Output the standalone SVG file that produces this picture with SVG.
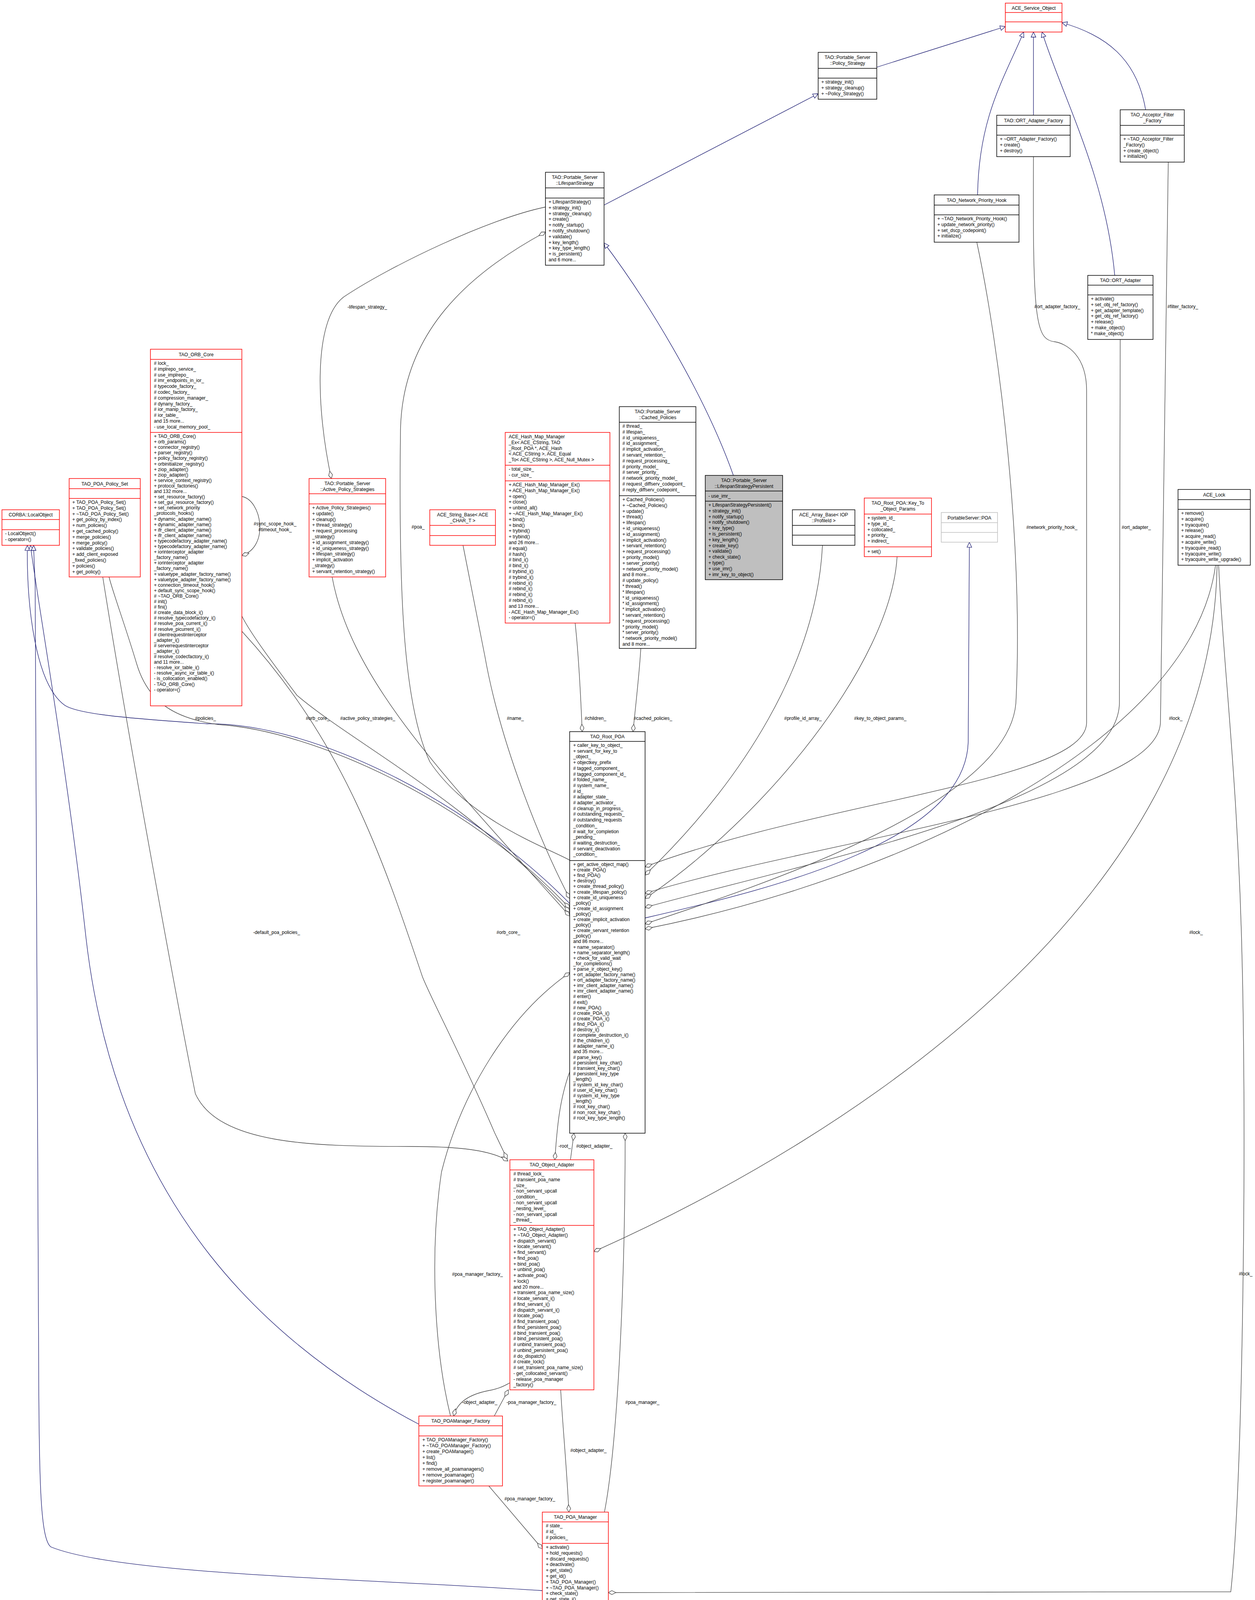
<svg xmlns="http://www.w3.org/2000/svg" width="3212" height="4291" viewBox="0 0 3212 4291">
<style>
.bg{fill:#fff}
.n rect{fill:#fff;stroke-width:1.5}
.n line{stroke-width:1.5}
.r rect,.r line{stroke:#ff0000}
.k rect,.k line{stroke:#000}
.g rect,.g line{stroke:#bfbfbf}
.t{font-family:"Liberation Sans",Arial,sans-serif;font-size:12px;fill:#000}
.c{text-anchor:middle}
.e path{fill:none;stroke-width:1.3}
.in{stroke:#191970;marker-end:url(#tri)}
.ag{stroke:#404040;marker-start:url(#dia)}
.lb{font-family:"Liberation Sans",Arial,sans-serif;font-size:12px;fill:#000;text-anchor:middle}
</style>
<defs>
<marker id="tri" markerUnits="userSpaceOnUse" markerWidth="16" markerHeight="14" refX="14" refY="7" orient="auto"><path d="M1,1 L14,7 L1,13 z" fill="#fff" stroke="#191970" stroke-width="1.3"/></marker>
<marker id="dia" markerUnits="userSpaceOnUse" markerWidth="22" markerHeight="12" refX="1" refY="6" orient="auto"><path d="M1,6 L10,1 L20,6 L10,11 z" fill="#fff" stroke="#404040" stroke-width="1.3"/></marker>
</defs>
<rect class="bg" x="0" y="0" width="3212" height="4291"/>

<g id="edges" class="e">
<path class="in" d="M2244,172 L2573,68"/>
<path class="in" d="M1546,525 L2094,240"/>
<path class="in" d="M1877,1217 C1800,1000 1650,760 1546,622"/>
<path class="in" d="M2502,499 C2505,300 2570,200 2620,82"/>
<path class="in" d="M2645,295 L2645,82"/>
<path class="in" d="M2853,705 C2830,450 2720,250 2667,82"/>
<path class="in" d="M2932,281 C2910,150 2830,90 2718,58"/>
<path class="in" d="M1651,2350 C2000,2270 2470,2150 2478,1900 L2481,1388"/>
<path class="in" d="M1458,2313 C1200,2050 800,1850 530,1853 C350,1840 200,1830 165,1805 C90,1750 68,1550 70,1396"/>
<path class="in" d="M1072,3646 C700,3450 300,3100 220,2400 C170,1950 90,1500 78,1396"/>
<path class="in" d="M1388,4072 C900,4040 300,4030 130,3960 C104,3940 100,3800 99,3500 L90,1500 C88,1440 86,1410 86,1396"/>

<path class="ag" d="M848,1225 C810,1050 800,820 880,760 C1000,680 1250,560 1396,530"/>
<path class="ag" d="M1396,594 C1200,700 1030,850 1025,1100 C1020,1500 1030,1800 1100,1950 C1200,2100 1400,2170 1458,2202"/>
<path class="ag" d="M1458,2300 C1380,2150 1280,1900 1241,1680 L1185,1396"/>
<path class="ag" d="M1490,1873 C1485,1750 1478,1650 1472,1595"/>
<path class="ag" d="M1620,1873 C1630,1780 1638,1700 1640,1660"/>
<path class="ag" d="M1458,2325 C1200,2050 800,1870 560,1855 C450,1840 380,1800 350,1700 C320,1600 290,1520 279,1477"/>
<path class="ag" d="M1300,2972 C1250,2940 1150,2935 1050,2935 C800,2935 560,2930 500,2800 C460,2600 330,1900 263,1477"/>
<path class="ag" d="M1458,2335 C1200,2050 900,1900 760,1780 C700,1700 640,1620 619,1577"/>
<path class="ag" d="M1298,2967 L1266,2900 C1180,2700 1100,2550 1081,2500 C980,2200 880,1900 619,1616"/>
<path class="ag" d="M1458,2345 C1150,2000 900,1750 850,1477"/>
<path class="ag" d="M619,1422 C690,1400 670,1280 619,1271"/>
<path class="ag" d="M1651,2365 C2000,2250 2580,2050 2600,1800 C2620,1400 2560,900 2500,620"/>
<path class="ag" d="M1651,2219 C2100,2050 2780,2000 2781,1850 L2781,1000 C2781,910 2730,880 2700,875 C2650,870 2643,820 2645,401"/>
<path class="ag" d="M1651,2287 C2100,2150 2960,2050 2970,1850 L2990,415"/>
<path class="ag" d="M1651,2323 C2100,2200 2860,2050 2865,1800 L2867,869"/>
<path class="ag" d="M1651,2378 C2300,2250 3050,1900 3111,1447"/>
<path class="ag" d="M1651,2240 C1900,2000 2090,1700 2105,1396"/>
<path class="ag" d="M1651,2300 C1950,2100 2280,1700 2296,1425"/>
<path class="ag" d="M1520,3204 C2200,2900 3100,2300 3115,1447"/>
<path class="ag" d="M1557,4077 L3150,4075 C3180,3800 3190,3000 3180,2500 C3170,2000 3130,1700 3119,1447"/>
<path class="ag" d="M1420,2969 C1425,2900 1430,2820 1458,2744"/>
<path class="ag" d="M1469,2901 L1460,2969"/>
<path class="ag" d="M1600,2901 C1600,3300 1580,3700 1547,3871"/>
<path class="ag" d="M1458,2490 C1300,2600 1180,2800 1130,3000 C1100,3200 1110,3450 1153,3625"/>
<path class="ag" d="M1161,3625 C1170,3590 1200,3570 1250,3560 C1280,3555 1295,3545 1305,3540"/>
<path class="ag" d="M1301,3558 L1265,3625"/>
<path class="ag" d="M1456,3871 C1450,3750 1440,3650 1435,3558"/>
<path class="ag" d="M1388,3965 L1251,3804"/>

<text class="lb" x="940" y="790">-lifespan_strategy_</text>
<text class="lb" x="1070" y="1353">#poa_</text>
<text class="lb" x="526" y="1843">#policies_</text>
<text class="lb" x="813" y="1843">#orb_core_</text>
<text class="lb" x="941" y="1843">#active_policy_strategies_</text>
<text class="lb" x="1319" y="1843">#name_</text>
<text class="lb" x="1524" y="1843">#children_</text>
<text class="lb" x="1671" y="1843">#cached_policies_</text>
<text class="lb" x="2055" y="1843">#profile_id_array_</text>
<text class="lb" x="2253" y="1843">#key_to_object_params_</text>
<text class="lb" x="3009" y="1843">#lock_</text>
<text class="lb" x="2692" y="1354">#network_priority_hook_</text>
<text class="lb" x="2908" y="1354">#ort_adapter_</text>
<text class="lb" x="2706" y="789">#ort_adapter_factory_</text>
<text class="lb" x="3027" y="789">#filter_factory_</text>
<text class="lb" x="704" y="1345">#sync_scope_hook_</text>
<text class="lb" x="704" y="1360">#timeout_hook_</text>
<text class="lb" x="708" y="2391">-default_poa_policies_</text>
<text class="lb" x="1301" y="2391">#orb_core_</text>
<text class="lb" x="3061" y="2391">#lock_</text>
<text class="lb" x="3188" y="3265">#lock_</text>
<text class="lb" x="1445" y="2938">-root_</text>
<text class="lb" x="1521" y="2938">#object_adapter_</text>
<text class="lb" x="1222" y="3266">#poa_manager_factory_</text>
<text class="lb" x="1228" y="3594">-object_adapter_</text>
<text class="lb" x="1360" y="3594">-poa_manager_factory_</text>
<text class="lb" x="1644" y="3594">#poa_manager_</text>
<text class="lb" x="1506" y="3717">#object_adapter_</text>
<text class="lb" x="1356" y="3841">#poa_manager_factory_</text>
</g>

<g id="ACE_Service_Object" class="n r"><rect x="2573" y="8" width="145" height="74"/><line x1="2573" y1="32" x2="2718" y2="32"/><line x1="2573" y1="56" x2="2718" y2="56"/><text class="t c" x="2645.5" y="24.5">ACE_Service_Object</text></g>

<g id="Policy_Strategy" class="n k"><rect x="2094" y="134" width="150" height="120"/><line x1="2094" y1="175" x2="2244" y2="175"/><line x1="2094" y1="200" x2="2244" y2="200"/>
<text class="t c" x="2169" y="151">TAO::Portable_Server<tspan x="2169" dy="14.8">::Policy_Strategy</tspan></text>
<text class="t" x="2102" y="214">+ strategy_init()<tspan x="2102" dy="14.8">+ strategy_cleanup()</tspan><tspan x="2102" dy="14.8">+ ~Policy_Strategy()</tspan></text></g>

<g id="LifespanStrategy" class="n k"><rect x="1396" y="441" width="150" height="238"/><line x1="1396" y1="481" x2="1546" y2="481"/><line x1="1396" y1="507" x2="1546" y2="507"/>
<text class="t c" x="1471" y="458">TAO::Portable_Server<tspan x="1471" dy="14.8">::LifespanStrategy</tspan></text>
<text class="t" x="1404" y="521">+ LifespanStrategy()<tspan x="1404" dy="14.8">+ strategy_init()</tspan><tspan x="1404" dy="14.8">+ strategy_cleanup()</tspan><tspan x="1404" dy="14.8">+ create()</tspan><tspan x="1404" dy="14.8">+ notify_startup()</tspan><tspan x="1404" dy="14.8">+ notify_shutdown()</tspan><tspan x="1404" dy="14.8">+ validate()</tspan><tspan x="1404" dy="14.8">+ key_length()</tspan><tspan x="1404" dy="14.8">+ key_type_length()</tspan><tspan x="1404" dy="14.8">+ is_persistent()</tspan><tspan x="1404" dy="14.8">and 6 more...</tspan></text></g>

<g id="ORT_Adapter_Factory" class="n k"><rect x="2551" y="295" width="188" height="106"/><line x1="2551" y1="321" x2="2739" y2="321"/><line x1="2551" y1="346" x2="2739" y2="346"/>
<text class="t c" x="2645" y="312.5">TAO::ORT_Adapter_Factory</text>
<text class="t" x="2559" y="360">+ ~ORT_Adapter_Factory()<tspan x="2559" dy="14.8">+ create()</tspan><tspan x="2559" dy="14.8">+ destroy()</tspan></text></g>

<g id="Acceptor_Filter_Factory" class="n k"><rect x="2867" y="281" width="164" height="134"/><line x1="2867" y1="321" x2="3031" y2="321"/><line x1="2867" y1="346" x2="3031" y2="346"/>
<text class="t c" x="2949" y="298">TAO_Acceptor_Filter<tspan x="2949" dy="14.8">_Factory</tspan></text>
<text class="t" x="2875" y="360">+ ~TAO_Acceptor_Filter<tspan x="2875" dy="14.8">_Factory()</tspan><tspan x="2875" dy="14.8">+ create_object()</tspan><tspan x="2875" dy="14.8">+ initialize()</tspan></text></g>

<g id="Network_Priority_Hook" class="n k"><rect x="2391" y="499" width="217" height="121"/><line x1="2391" y1="525" x2="2608" y2="525"/><line x1="2391" y1="550" x2="2608" y2="550"/>
<text class="t c" x="2499.5" y="516.5">TAO_Network_Priority_Hook</text>
<text class="t" x="2399" y="564">+ ~TAO_Network_Priority_Hook()<tspan x="2399" dy="14.8">+ update_network_priority()</tspan><tspan x="2399" dy="14.8">+ set_dscp_codepoint()</tspan><tspan x="2399" dy="14.8">+ initialize()</tspan></text></g>

<g id="ORT_Adapter" class="n k"><rect x="2784" y="705" width="167" height="164"/><line x1="2784" y1="730" x2="2951" y2="730"/><line x1="2784" y1="755" x2="2951" y2="755"/>
<text class="t c" x="2867.5" y="722">TAO::ORT_Adapter</text>
<text class="t" x="2792" y="769">+ activate()<tspan x="2792" dy="14.8">+ set_obj_ref_factory()</tspan><tspan x="2792" dy="14.8">+ get_adapter_template()</tspan><tspan x="2792" dy="14.8">+ get_obj_ref_factory()</tspan><tspan x="2792" dy="14.8">+ release()</tspan><tspan x="2792" dy="14.8">+ make_object()</tspan><tspan x="2792" dy="14.8">* make_object()</tspan></text></g>

<g id="TAO_ORB_Core" class="n r"><rect x="385" y="894" width="234" height="913"/><line x1="385" y1="920" x2="619" y2="920"/><line x1="385" y1="1107" x2="619" y2="1107"/>
<text class="t c" x="502" y="911.5">TAO_ORB_Core</text>
<text class="t" x="394" y="934"># lock_<tspan x="394" dy="14.8"># implrepo_service_</tspan><tspan x="394" dy="14.8"># use_implrepo_</tspan><tspan x="394" dy="14.8"># imr_endpoints_in_ior_</tspan><tspan x="394" dy="14.8"># typecode_factory_</tspan><tspan x="394" dy="14.8"># codec_factory_</tspan><tspan x="394" dy="14.8"># compression_manager_</tspan><tspan x="394" dy="14.8"># dynany_factory_</tspan><tspan x="394" dy="14.8"># ior_manip_factory_</tspan><tspan x="394" dy="14.8"># ior_table_</tspan><tspan x="394" dy="14.8">and 15 more...</tspan><tspan x="394" dy="14.8">- use_local_memory_pool_</tspan></text>
<text class="t" x="394" y="1121">+ TAO_ORB_Core()<tspan x="394" dy="14.1">+ orb_params()</tspan><tspan x="394" dy="14.1">+ connector_registry()</tspan><tspan x="394" dy="14.1">+ parser_registry()</tspan><tspan x="394" dy="14.1">+ policy_factory_registry()</tspan><tspan x="394" dy="14.1">+ orbinitializer_registry()</tspan><tspan x="394" dy="14.1">+ ziop_adapter()</tspan><tspan x="394" dy="14.1">+ ziop_adapter()</tspan><tspan x="394" dy="14.1">+ service_context_registry()</tspan><tspan x="394" dy="14.1">+ protocol_factories()</tspan><tspan x="394" dy="14.1">and 132 more...</tspan><tspan x="394" dy="14.1">+ set_resource_factory()</tspan><tspan x="394" dy="14.1">+ set_gui_resource_factory()</tspan><tspan x="394" dy="14.1">+ set_network_priority</tspan><tspan x="394" dy="14.1">_protocols_hooks()</tspan><tspan x="394" dy="14.1">+ dynamic_adapter_name()</tspan><tspan x="394" dy="14.1">+ dynamic_adapter_name()</tspan><tspan x="394" dy="14.1">+ ifr_client_adapter_name()</tspan><tspan x="394" dy="14.1">+ ifr_client_adapter_name()</tspan><tspan x="394" dy="14.1">+ typecodefactory_adapter_name()</tspan><tspan x="394" dy="14.1">+ typecodefactory_adapter_name()</tspan><tspan x="394" dy="14.1">+ iorinterceptor_adapter</tspan><tspan x="394" dy="14.1">_factory_name()</tspan><tspan x="394" dy="14.1">+ iorinterceptor_adapter</tspan><tspan x="394" dy="14.1">_factory_name()</tspan><tspan x="394" dy="14.1">+ valuetype_adapter_factory_name()</tspan><tspan x="394" dy="14.1">+ valuetype_adapter_factory_name()</tspan><tspan x="394" dy="14.1">+ connection_timeout_hook()</tspan><tspan x="394" dy="14.1">+ default_sync_scope_hook()</tspan><tspan x="394" dy="14.1"># ~TAO_ORB_Core()</tspan><tspan x="394" dy="14.1"># init()</tspan><tspan x="394" dy="14.1"># fini()</tspan><tspan x="394" dy="14.1"># create_data_block_i()</tspan><tspan x="394" dy="14.1"># resolve_typecodefactory_i()</tspan><tspan x="394" dy="14.1"># resolve_poa_current_i()</tspan><tspan x="394" dy="14.1"># resolve_picurrent_i()</tspan><tspan x="394" dy="14.1"># clientrequestinterceptor</tspan><tspan x="394" dy="14.1">_adapter_i()</tspan><tspan x="394" dy="14.1"># serverrequestinterceptor</tspan><tspan x="394" dy="14.1">_adapter_i()</tspan><tspan x="394" dy="14.1"># resolve_codecfactory_i()</tspan><tspan x="394" dy="14.1">and 11 more...</tspan><tspan x="394" dy="14.1">- resolve_ior_table_i()</tspan><tspan x="394" dy="14.1">- resolve_async_ior_table_i()</tspan><tspan x="394" dy="14.1">- is_collocation_enabled()</tspan><tspan x="394" dy="14.1">- TAO_ORB_Core()</tspan><tspan x="394" dy="14.1">- operator=()</tspan></text></g>

<g id="TAO_POA_Policy_Set" class="n r"><rect x="177" y="1225" width="182" height="252"/><line x1="177" y1="1251" x2="359" y2="1251"/><line x1="177" y1="1276" x2="359" y2="1276"/>
<text class="t c" x="268" y="1242.5">TAO_POA_Policy_Set</text>
<text class="t" x="185" y="1290">+ TAO_POA_Policy_Set()<tspan x="185" dy="14.8">+ TAO_POA_Policy_Set()</tspan><tspan x="185" dy="14.8">+ ~TAO_POA_Policy_Set()</tspan><tspan x="185" dy="14.8">+ get_policy_by_index()</tspan><tspan x="185" dy="14.8">+ num_policies()</tspan><tspan x="185" dy="14.8">+ get_cached_policy()</tspan><tspan x="185" dy="14.8">+ merge_policies()</tspan><tspan x="185" dy="14.8">+ merge_policy()</tspan><tspan x="185" dy="14.8">+ validate_policies()</tspan><tspan x="185" dy="14.8">+ add_client_exposed</tspan><tspan x="185" dy="14.8">_fixed_policies()</tspan><tspan x="185" dy="14.8">+ policies()</tspan><tspan x="185" dy="14.8">+ get_policy()</tspan></text></g>

<g id="CORBA_LocalObject" class="n r"><rect x="5" y="1305" width="147" height="91"/><line x1="5" y1="1330" x2="152" y2="1330"/><line x1="5" y1="1356" x2="152" y2="1356"/>
<text class="t c" x="78.5" y="1322">CORBA::LocalObject</text>
<text class="t" x="13" y="1370">- LocalObject()<tspan x="13" dy="14.8">- operator=()</tspan></text></g>

<g id="Active_Policy_Strategies" class="n r"><rect x="791" y="1225" width="196" height="252"/><line x1="791" y1="1264" x2="987" y2="1264"/><line x1="791" y1="1290" x2="987" y2="1290"/>
<text class="t c" x="889" y="1242">TAO::Portable_Server<tspan x="889" dy="14.8">::Active_Policy_Strategies</tspan></text>
<text class="t" x="799" y="1304">+ Active_Policy_Strategies()<tspan x="799" dy="14.8">+ update()</tspan><tspan x="799" dy="14.8">+ cleanup()</tspan><tspan x="799" dy="14.8">+ thread_strategy()</tspan><tspan x="799" dy="14.8">+ request_processing</tspan><tspan x="799" dy="14.8">_strategy()</tspan><tspan x="799" dy="14.8">+ id_assignment_strategy()</tspan><tspan x="799" dy="14.8">+ id_uniqueness_strategy()</tspan><tspan x="799" dy="14.8">+ lifespan_strategy()</tspan><tspan x="799" dy="14.8">+ implicit_activation</tspan><tspan x="799" dy="14.8">_strategy()</tspan><tspan x="799" dy="14.8">+ servant_retention_strategy()</tspan></text></g>

<g id="ACE_String_Base" class="n r"><rect x="1100" y="1305" width="168" height="91"/><line x1="1100" y1="1345" x2="1268" y2="1345"/><line x1="1100" y1="1371" x2="1268" y2="1371"/>
<text class="t c" x="1184" y="1322">ACE_String_Base&lt; ACE<tspan x="1184" dy="14.8">_CHAR_T &gt;</tspan></text></g>

<g id="ACE_Hash_Map_Manager_Ex" class="n r"><rect x="1293" y="1107" width="268" height="488"/><line x1="1293" y1="1191" x2="1561" y2="1191"/><line x1="1293" y1="1231" x2="1561" y2="1231"/>
<text class="t" x="1302" y="1122">ACE_Hash_Map_Manager<tspan x="1302" dy="14.8">_Ex&lt; ACE_CString, TAO</tspan><tspan x="1302" dy="14.8">_Root_POA *, ACE_Hash</tspan><tspan x="1302" dy="14.8">&lt; ACE_CString &gt;, ACE_Equal</tspan><tspan x="1302" dy="14.8">_To&lt; ACE_CString &gt;, ACE_Null_Mutex &gt;</tspan></text>
<text class="t" x="1302" y="1205">- total_size_<tspan x="1302" dy="14.8">- cur_size_</tspan></text>
<text class="t" x="1302" y="1245">+ ACE_Hash_Map_Manager_Ex()<tspan x="1302" dy="14.8">+ ACE_Hash_Map_Manager_Ex()</tspan><tspan x="1302" dy="14.8">+ open()</tspan><tspan x="1302" dy="14.8">+ close()</tspan><tspan x="1302" dy="14.8">+ unbind_all()</tspan><tspan x="1302" dy="14.8">+ ~ACE_Hash_Map_Manager_Ex()</tspan><tspan x="1302" dy="14.8">+ bind()</tspan><tspan x="1302" dy="14.8">+ bind()</tspan><tspan x="1302" dy="14.8">+ trybind()</tspan><tspan x="1302" dy="14.8">+ trybind()</tspan><tspan x="1302" dy="14.8">and 26 more...</tspan><tspan x="1302" dy="14.8"># equal()</tspan><tspan x="1302" dy="14.8"># hash()</tspan><tspan x="1302" dy="14.8"># bind_i()</tspan><tspan x="1302" dy="14.8"># bind_i()</tspan><tspan x="1302" dy="14.8"># trybind_i()</tspan><tspan x="1302" dy="14.8"># trybind_i()</tspan><tspan x="1302" dy="14.8"># rebind_i()</tspan><tspan x="1302" dy="14.8"># rebind_i()</tspan><tspan x="1302" dy="14.8"># rebind_i()</tspan><tspan x="1302" dy="14.8"># rebind_i()</tspan><tspan x="1302" dy="14.8">and 13 more...</tspan><tspan x="1302" dy="14.8">- ACE_Hash_Map_Manager_Ex()</tspan><tspan x="1302" dy="14.8">- operator=()</tspan></text></g>

<g id="Cached_Policies" class="n k"><rect x="1585" y="1041" width="196" height="619"/><line x1="1585" y1="1081" x2="1781" y2="1081"/><line x1="1585" y1="1269" x2="1781" y2="1269"/>
<text class="t c" x="1683" y="1058">TAO::Portable_Server<tspan x="1683" dy="14.8">::Cached_Policies</tspan></text>
<text class="t" x="1593" y="1095"># thread_<tspan x="1593" dy="14.8"># lifespan_</tspan><tspan x="1593" dy="14.8"># id_uniqueness_</tspan><tspan x="1593" dy="14.8"># id_assignment_</tspan><tspan x="1593" dy="14.8"># implicit_activation_</tspan><tspan x="1593" dy="14.8"># servant_retention_</tspan><tspan x="1593" dy="14.8"># request_processing_</tspan><tspan x="1593" dy="14.8"># priority_model_</tspan><tspan x="1593" dy="14.8"># server_priority_</tspan><tspan x="1593" dy="14.8"># network_priority_model_</tspan><tspan x="1593" dy="14.8"># request_diffserv_codepoint_</tspan><tspan x="1593" dy="14.8"># reply_diffserv_codepoint_</tspan></text>
<text class="t" x="1593" y="1283">+ Cached_Policies()<tspan x="1593" dy="14.8">+ ~Cached_Policies()</tspan><tspan x="1593" dy="14.8">+ update()</tspan><tspan x="1593" dy="14.8">+ thread()</tspan><tspan x="1593" dy="14.8">+ lifespan()</tspan><tspan x="1593" dy="14.8">+ id_uniqueness()</tspan><tspan x="1593" dy="14.8">+ id_assignment()</tspan><tspan x="1593" dy="14.8">+ implicit_activation()</tspan><tspan x="1593" dy="14.8">+ servant_retention()</tspan><tspan x="1593" dy="14.8">+ request_processing()</tspan><tspan x="1593" dy="14.8">+ priority_model()</tspan><tspan x="1593" dy="14.8">+ server_priority()</tspan><tspan x="1593" dy="14.8">+ network_priority_model()</tspan><tspan x="1593" dy="14.8">and 8 more...</tspan><tspan x="1593" dy="14.8"># update_policy()</tspan><tspan x="1593" dy="14.8">* thread()</tspan><tspan x="1593" dy="14.8">* lifespan()</tspan><tspan x="1593" dy="14.8">* id_uniqueness()</tspan><tspan x="1593" dy="14.8">* id_assignment()</tspan><tspan x="1593" dy="14.8">* implicit_activation()</tspan><tspan x="1593" dy="14.8">* servant_retention()</tspan><tspan x="1593" dy="14.8">* request_processing()</tspan><tspan x="1593" dy="14.8">* priority_model()</tspan><tspan x="1593" dy="14.8">* server_priority()</tspan><tspan x="1593" dy="14.8">* network_priority_model()</tspan><tspan x="1593" dy="14.8">and 8 more...</tspan></text></g>

<g id="LifespanStrategyPersistent" class="n k"><rect x="1805" y="1217" width="198" height="267" style="fill:#bfbfbf"/><line x1="1805" y1="1257" x2="2003" y2="1257"/><line x1="1805" y1="1283" x2="2003" y2="1283"/>
<text class="t c" x="1904" y="1234">TAO::Portable_Server<tspan x="1904" dy="14.8">::LifespanStrategyPersistent</tspan></text>
<text class="t" x="1813" y="1274">- use_imr_</text>
<text class="t" x="1813" y="1297">+ LifespanStrategyPersistent()<tspan x="1813" dy="14.8">+ strategy_init()</tspan><tspan x="1813" dy="14.8">+ notify_startup()</tspan><tspan x="1813" dy="14.8">+ notify_shutdown()</tspan><tspan x="1813" dy="14.8">+ key_type()</tspan><tspan x="1813" dy="14.8">+ is_persistent()</tspan><tspan x="1813" dy="14.8">+ key_length()</tspan><tspan x="1813" dy="14.8">+ create_key()</tspan><tspan x="1813" dy="14.8">+ validate()</tspan><tspan x="1813" dy="14.8">+ check_state()</tspan><tspan x="1813" dy="14.8">+ type()</tspan><tspan x="1813" dy="14.8">+ use_imr()</tspan><tspan x="1813" dy="14.8">+ imr_key_to_object()</tspan></text></g>

<g id="ACE_Array_Base" class="n k"><rect x="2028" y="1305" width="160" height="91"/><line x1="2028" y1="1345" x2="2188" y2="1345"/><line x1="2028" y1="1370" x2="2188" y2="1370"/>
<text class="t c" x="2108" y="1322">ACE_Array_Base&lt; IOP<tspan x="2108" dy="14.8">::ProfileId &gt;</tspan></text></g>

<g id="Key_To_Object_Params" class="n r"><rect x="2212" y="1275" width="172" height="150"/><line x1="2212" y1="1316" x2="2384" y2="1316"/><line x1="2212" y1="1400" x2="2384" y2="1400"/>
<text class="t c" x="2298" y="1292">TAO_Root_POA::Key_To<tspan x="2298" dy="14.8">_Object_Params</tspan></text>
<text class="t" x="2220" y="1330">+ system_id_<tspan x="2220" dy="14.8">+ type_id_</tspan><tspan x="2220" dy="14.8">+ collocated_</tspan><tspan x="2220" dy="14.8">+ priority_</tspan><tspan x="2220" dy="14.8">+ indirect_</tspan></text>
<text class="t" x="2220" y="1416">+ set()</text></g>

<g id="PortableServer_POA" class="n g"><rect x="2409" y="1312" width="144" height="76"/><line x1="2409" y1="1338" x2="2553" y2="1338"/><line x1="2409" y1="1363" x2="2553" y2="1363"/>
<text class="t c" x="2481" y="1329.5">PortableServer::POA</text></g>

<g id="ACE_Lock" class="n k"><rect x="3015" y="1253" width="185" height="194"/><line x1="3015" y1="1279" x2="3200" y2="1279"/><line x1="3015" y1="1304" x2="3200" y2="1304"/>
<text class="t c" x="3107.5" y="1270.5">ACE_Lock</text>
<text class="t" x="3023" y="1318">+ remove()<tspan x="3023" dy="14.8">+ acquire()</tspan><tspan x="3023" dy="14.8">+ tryacquire()</tspan><tspan x="3023" dy="14.8">+ release()</tspan><tspan x="3023" dy="14.8">+ acquire_read()</tspan><tspan x="3023" dy="14.8">+ acquire_write()</tspan><tspan x="3023" dy="14.8">+ tryacquire_read()</tspan><tspan x="3023" dy="14.8">+ tryacquire_write()</tspan><tspan x="3023" dy="14.8">+ tryacquire_write_upgrade()</tspan></text></g>

<g id="TAO_Root_POA" class="n k"><rect x="1458" y="1873" width="193" height="1028"/><line x1="1458" y1="1898" x2="1651" y2="1898"/><line x1="1458" y1="2203" x2="1651" y2="2203"/>
<text class="t c" x="1554.5" y="1890">TAO_Root_POA</text>
<text class="t" x="1467" y="1912">+ caller_key_to_object_<tspan x="1467" dy="14.7">+ servant_for_key_to</tspan><tspan x="1467" dy="14.7">_object_</tspan><tspan x="1467" dy="14.7">+ objectkey_prefix</tspan><tspan x="1467" dy="14.7"># tagged_component_</tspan><tspan x="1467" dy="14.7"># tagged_component_id_</tspan><tspan x="1467" dy="14.7"># folded_name_</tspan><tspan x="1467" dy="14.7"># system_name_</tspan><tspan x="1467" dy="14.7"># id_</tspan><tspan x="1467" dy="14.7"># adapter_state_</tspan><tspan x="1467" dy="14.7"># adapter_activator_</tspan><tspan x="1467" dy="14.7"># cleanup_in_progress_</tspan><tspan x="1467" dy="14.7"># outstanding_requests_</tspan><tspan x="1467" dy="14.7"># outstanding_requests</tspan><tspan x="1467" dy="14.7">_condition_</tspan><tspan x="1467" dy="14.7"># wait_for_completion</tspan><tspan x="1467" dy="14.7">_pending_</tspan><tspan x="1467" dy="14.7"># waiting_destruction_</tspan><tspan x="1467" dy="14.7"># servant_deactivation</tspan><tspan x="1467" dy="14.7">_condition_</tspan></text>
<text class="t" x="1467" y="2217">+ get_active_object_map()<tspan x="1467" dy="14.1">+ create_POA()</tspan><tspan x="1467" dy="14.1">+ find_POA()</tspan><tspan x="1467" dy="14.1">+ destroy()</tspan><tspan x="1467" dy="14.1">+ create_thread_policy()</tspan><tspan x="1467" dy="14.1">+ create_lifespan_policy()</tspan><tspan x="1467" dy="14.1">+ create_id_uniqueness</tspan><tspan x="1467" dy="14.1">_policy()</tspan><tspan x="1467" dy="14.1">+ create_id_assignment</tspan><tspan x="1467" dy="14.1">_policy()</tspan><tspan x="1467" dy="14.1">+ create_implicit_activation</tspan><tspan x="1467" dy="14.1">_policy()</tspan><tspan x="1467" dy="14.1">+ create_servant_retention</tspan><tspan x="1467" dy="14.1">_policy()</tspan><tspan x="1467" dy="14.1">and 86 more...</tspan><tspan x="1467" dy="14.1">+ name_separator()</tspan><tspan x="1467" dy="14.1">+ name_separator_length()</tspan><tspan x="1467" dy="14.1">+ check_for_valid_wait</tspan><tspan x="1467" dy="14.1">_for_completions()</tspan><tspan x="1467" dy="14.1">+ parse_ir_object_key()</tspan><tspan x="1467" dy="14.1">+ ort_adapter_factory_name()</tspan><tspan x="1467" dy="14.1">+ ort_adapter_factory_name()</tspan><tspan x="1467" dy="14.1">+ imr_client_adapter_name()</tspan><tspan x="1467" dy="14.1">+ imr_client_adapter_name()</tspan><tspan x="1467" dy="14.1"># enter()</tspan><tspan x="1467" dy="14.1"># exit()</tspan><tspan x="1467" dy="14.1"># new_POA()</tspan><tspan x="1467" dy="14.1"># create_POA_i()</tspan><tspan x="1467" dy="14.1"># create_POA_i()</tspan><tspan x="1467" dy="14.1"># find_POA_i()</tspan><tspan x="1467" dy="14.1"># destroy_i()</tspan><tspan x="1467" dy="14.1"># complete_destruction_i()</tspan><tspan x="1467" dy="14.1"># the_children_i()</tspan><tspan x="1467" dy="14.1"># adapter_name_i()</tspan><tspan x="1467" dy="14.1">and 35 more...</tspan><tspan x="1467" dy="14.1"># parse_key()</tspan><tspan x="1467" dy="14.1"># persistent_key_char()</tspan><tspan x="1467" dy="14.1"># transient_key_char()</tspan><tspan x="1467" dy="14.1"># persistent_key_type</tspan><tspan x="1467" dy="14.1">_length()</tspan><tspan x="1467" dy="14.1"># system_id_key_char()</tspan><tspan x="1467" dy="14.1"># user_id_key_char()</tspan><tspan x="1467" dy="14.1"># system_id_key_type</tspan><tspan x="1467" dy="14.1">_length()</tspan><tspan x="1467" dy="14.1"># root_key_char()</tspan><tspan x="1467" dy="14.1"># non_root_key_char()</tspan><tspan x="1467" dy="14.1"># root_key_type_length()</tspan></text></g>

<g id="TAO_Object_Adapter" class="n r"><rect x="1305" y="2969" width="215" height="589"/><line x1="1305" y1="2995" x2="1520" y2="2995"/><line x1="1305" y1="3137" x2="1520" y2="3137"/>
<text class="t c" x="1412.5" y="2986">TAO_Object_Adapter</text>
<text class="t" x="1314" y="3009"># thread_lock_<tspan x="1314" dy="14.8"># transient_poa_name</tspan><tspan x="1314" dy="14.8">_size_</tspan><tspan x="1314" dy="14.8">- non_servant_upcall</tspan><tspan x="1314" dy="14.8">_condition_</tspan><tspan x="1314" dy="14.8">- non_servant_upcall</tspan><tspan x="1314" dy="14.8">_nesting_level_</tspan><tspan x="1314" dy="14.8">- non_servant_upcall</tspan><tspan x="1314" dy="14.8">_thread_</tspan></text>
<text class="t" x="1314" y="3151">+ TAO_Object_Adapter()<tspan x="1314" dy="14.75">+ ~TAO_Object_Adapter()</tspan><tspan x="1314" dy="14.75">+ dispatch_servant()</tspan><tspan x="1314" dy="14.75">+ locate_servant()</tspan><tspan x="1314" dy="14.75">+ find_servant()</tspan><tspan x="1314" dy="14.75">+ find_poa()</tspan><tspan x="1314" dy="14.75">+ bind_poa()</tspan><tspan x="1314" dy="14.75">+ unbind_poa()</tspan><tspan x="1314" dy="14.75">+ activate_poa()</tspan><tspan x="1314" dy="14.75">+ lock()</tspan><tspan x="1314" dy="14.75">and 20 more...</tspan><tspan x="1314" dy="14.75">+ transient_poa_name_size()</tspan><tspan x="1314" dy="14.75"># locate_servant_i()</tspan><tspan x="1314" dy="14.75"># find_servant_i()</tspan><tspan x="1314" dy="14.75"># dispatch_servant_i()</tspan><tspan x="1314" dy="14.75"># locate_poa()</tspan><tspan x="1314" dy="14.75"># find_transient_poa()</tspan><tspan x="1314" dy="14.75"># find_persistent_poa()</tspan><tspan x="1314" dy="14.75"># bind_transient_poa()</tspan><tspan x="1314" dy="14.75"># bind_persistent_poa()</tspan><tspan x="1314" dy="14.75"># unbind_transient_poa()</tspan><tspan x="1314" dy="14.75"># unbind_persistent_poa()</tspan><tspan x="1314" dy="14.75"># do_dispatch()</tspan><tspan x="1314" dy="14.75"># create_lock()</tspan><tspan x="1314" dy="14.75"># set_transient_poa_name_size()</tspan><tspan x="1314" dy="14.75">- get_collocated_servant()</tspan><tspan x="1314" dy="14.75">- release_poa_manager</tspan><tspan x="1314" dy="14.75">_factory()</tspan></text></g>

<g id="TAO_POAManager_Factory" class="n r"><rect x="1072" y="3625" width="214" height="179"/><line x1="1072" y1="3650" x2="1286" y2="3650"/><line x1="1072" y1="3676" x2="1286" y2="3676"/>
<text class="t c" x="1179" y="3642">TAO_POAManager_Factory</text>
<text class="t" x="1081" y="3690">+ TAO_POAManager_Factory()<tspan x="1081" dy="15">+ ~TAO_POAManager_Factory()</tspan><tspan x="1081" dy="15">+ create_POAManager()</tspan><tspan x="1081" dy="15">+ list()</tspan><tspan x="1081" dy="15">+ find()</tspan><tspan x="1081" dy="15">+ remove_all_poamanagers()</tspan><tspan x="1081" dy="15">+ remove_poamanager()</tspan><tspan x="1081" dy="15">+ register_poamanager()</tspan></text></g>

<g id="TAO_POA_Manager" class="n r"><rect x="1388" y="3871" width="169" height="413"/><line x1="1388" y1="3896" x2="1557" y2="3896"/><line x1="1388" y1="3951" x2="1557" y2="3951"/>
<text class="t c" x="1472.5" y="3888">TAO_POA_Manager</text>
<text class="t" x="1397" y="3910"># state_<tspan x="1397" dy="14.8"># id_</tspan><tspan x="1397" dy="14.8"># policies_</tspan></text>
<text class="t" x="1397" y="3965">+ activate()<tspan x="1397" dy="14.8">+ hold_requests()</tspan><tspan x="1397" dy="14.8">+ discard_requests()</tspan><tspan x="1397" dy="14.8">+ deactivate()</tspan><tspan x="1397" dy="14.8">+ get_state()</tspan><tspan x="1397" dy="14.8">+ get_id()</tspan><tspan x="1397" dy="14.8">+ TAO_POA_Manager()</tspan><tspan x="1397" dy="14.8">+ ~TAO_POA_Manager()</tspan><tspan x="1397" dy="14.8">+ check_state()</tspan><tspan x="1397" dy="14.8">+ get_state_i()</tspan><tspan x="1397" dy="14.8">+ _get_orb()</tspan><tspan x="1397" dy="14.8">+ get_policies()</tspan><tspan x="1397" dy="14.8"># activate_i()</tspan><tspan x="1397" dy="14.8"># deactivate_i()</tspan><tspan x="1397" dy="14.8"># adapter_manager_state</tspan><tspan x="1397" dy="14.8">_changed()</tspan><tspan x="1397" dy="14.8"># hold_requests_i()</tspan><tspan x="1397" dy="14.8"># discard_requests_i()</tspan><tspan x="1397" dy="14.8"># lock()</tspan><tspan x="1397" dy="14.8"># remove_poa()</tspan><tspan x="1397" dy="14.8"># register_poa()</tspan><tspan x="1397" dy="14.8">- generate_manager_id()</tspan></text></g>
</svg>
